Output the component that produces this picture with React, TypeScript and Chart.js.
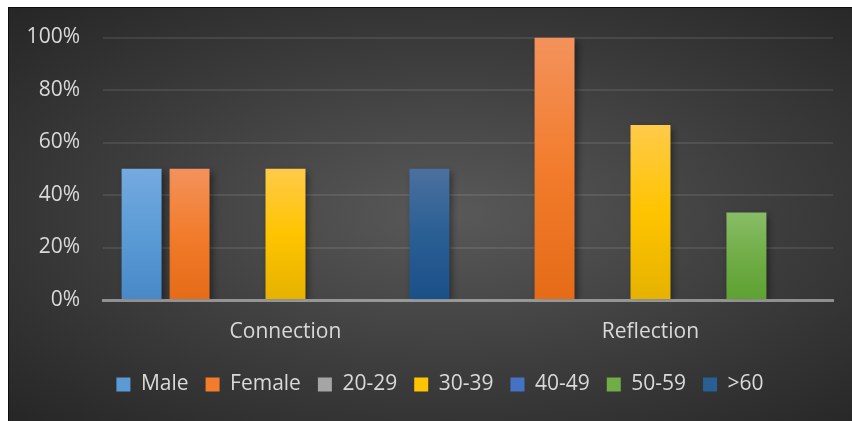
import React, { useEffect, useRef } from "react";
import { Chart, registerables } from "chart.js";

Chart.register(...registerables);

const categories = ["Connection", "Reflection"];
const seriesNames = ["Male", "Female", "20-29", "30-39", "40-49", "50-59", ">60"];
const male = [50, 0];
const female = [50, 100];
const age20to29 = [0, 0];
const age30to39 = [50, 66.7];
const age40to49 = [0, 0];
const age50to59 = [0, 33.3];
const age60plus = [50, 0];
const yTickValues = [0, 20, 40, 60, 80, 100];

const seriesValues = [male, female, age20to29, age30to39, age40to49, age50to59, age60plus];

// [top, middle, bottom] gradient colours per series
const gradientStops: string[][] = [
  ["#74aae0", "#5b9bd5", "#4888c8"],
  ["#f4925c", "#f27c2c", "#e56b17"],
  ["#b5b5b5", "#a5a5a5", "#959595"],
  ["#ffca4a", "#ffc400", "#e6b200"],
  ["#5a84cc", "#4472c4", "#3a62ad"],
  ["#88bd66", "#70ad47", "#5ea131"],
  ["#4b709f", "#2a5f94", "#1b4f88"],
];

const TEXT = "#d9d9d9";
const FONT = "'Open Sans', sans-serif";
const FS = 21;

function gradientFor(stops: string[]) {
  return (ctx: any) => {
    const chart = ctx.chart;
    const y = chart.scales && chart.scales.y;
    if (!y || ctx.type !== "data") return stops[1];
    const v = ctx.raw as number;
    const top = y.getPixelForValue(v);
    const bottom = y.getPixelForValue(0);
    if (!isFinite(top) || !isFinite(bottom) || Math.abs(bottom - top) < 0.5) return stops[1];
    const g = chart.ctx.createLinearGradient(0, top, 0, bottom);
    g.addColorStop(0, stops[0]);
    g.addColorStop(0.5, stops[1]);
    g.addColorStop(1, stops[2]);
    return g;
  };
}

const shadowPlugin = {
  id: "barShadow",
  afterLayout(chart: any) {
    const l = chart.legend;
    if (l) {
      l.left += 19;
      l.right += 19;
    }
  },
  beforeDatasetsDraw(chart: any) {
    const c = chart.ctx;
    c.save();
    c.shadowColor = "rgba(0,0,0,0.45)";
    c.shadowBlur = 7;
    c.shadowOffsetX = 3;
    c.shadowOffsetY = 3;
  },
  afterDatasetsDraw(chart: any) {
    chart.ctx.restore();
  },
};

export default function App() {
  const ref = useRef<HTMLCanvasElement | null>(null);

  useEffect(() => {
    if (!ref.current) return;
    const chart = new Chart(ref.current, {
      type: "bar",
      data: {
        labels: categories,
        datasets: seriesNames.map((name, i) => ({
          label: name,
          data: seriesValues[i],
          backgroundColor: gradientFor(gradientStops[i]),
          borderWidth: 0,
          categoryPercentage: 0.92,
          barPercentage: 0.833,
        })),
      },
      options: {
        responsive: false,
        animation: false,
        layout: { padding: { left: 0, right: 19, top: 29.5, bottom: 16 } },
        plugins: {
          tooltip: { enabled: false },
          legend: {
            position: "bottom",
            labels: {
              color: TEXT,
              font: { family: FONT, size: FS },
              boxWidth: 14,
              boxHeight: 14,
              padding: 17,
              generateLabels: (ch: any) =>
                ch.data.datasets.map((ds: any, i: number) => ({
                  text: ds.label,
                  fillStyle: gradientStops[i][1],
                  strokeStyle: gradientStops[i][1],
                  lineWidth: 0,
                  hidden: false,
                  datasetIndex: i,
                  fontColor: TEXT,
                })),
            },
          },
        },
        scales: {
          x: {
            grid: { display: false },
            border: { display: true, color: "rgba(217,217,217,0.55)", width: 3, z: 1 },
            ticks: { color: TEXT, font: { family: FONT, size: FS }, padding: 11 },
            afterFit: (s: any) => {
              s.height = 57;
            },
          },
          y: {
            min: 0,
            max: 100,
            afterBuildTicks: (s: any) => {
              s.ticks = yTickValues.map((v) => ({ value: v }));
            },
            grid: {
              drawTicks: false,
              lineWidth: 2,
              color: (c: any) => (c.tick && c.tick.value === 0 ? "rgba(0,0,0,0)" : "rgba(255,255,255,0.09)"),
            },
            border: { display: false },
            ticks: {
              color: TEXT,
              font: { family: FONT, size: FS },
              padding: 23,
              callback: (v: any) => v + "%",
            },
            afterFit: (s: any) => {
              s.width = 94;
              s.paddingTop = 0;
              s.paddingBottom = 0;
            },
          },
        },
      },
      plugins: [shadowPlugin],
    });
    return () => chart.destroy();
  }, []);

  return (
    <div
      style={{
        position: "absolute",
        left: 8,
        top: 7,
        width: 844,
        height: 414,
        boxSizing: "border-box",
        borderLeft: "1px solid #0d0d0d",
        borderTop: "1px solid #0d0d0d",
        background: "radial-gradient(ellipse farthest-corner at 52% 50%, #595959 0%, #3c3c3c 55%, #262626 100%)",
      }}
    >
      <canvas ref={ref} width={843} height={413} style={{ display: "block" }} />
    </div>
  );
}
